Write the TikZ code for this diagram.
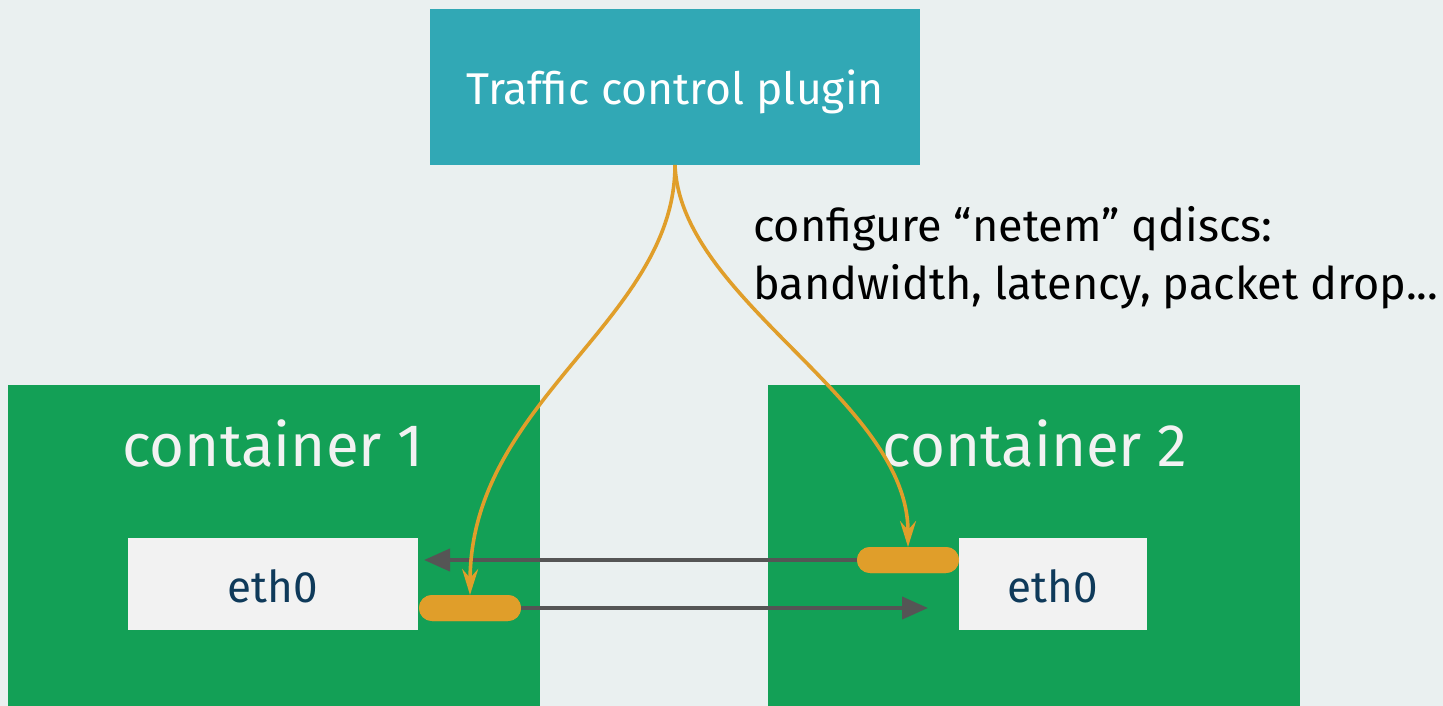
\documentclass[tikz,border=0pt]{standalone}
\usepackage{fontspec}
\setmainfont{Fira Sans}
\usetikzlibrary{arrows.meta}
\definecolor{bgc}{RGB}{234,240,240}
\definecolor{tealc}{RGB}{49,168,181}
\definecolor{greenc}{RGB}{19,160,86}
\definecolor{ethc}{RGB}{242,242,242}
\definecolor{orangec}{RGB}{224,158,42}
\definecolor{grayc}{RGB}{85,85,85}
\definecolor{navyc}{RGB}{15,58,90}
\tikzset{
  boxstyle/.style={draw=none, inner sep=0pt, outer sep=0pt},
  pill/.style={fill=orangec, rounded corners=13pt, minimum width=102pt, minimum height=26pt, inner sep=0pt, outer sep=0pt},
  flow/.style={draw=grayc, line width=4pt, -{Triangle[length=26pt,width=22pt]}},
  cfg/.style={draw=orangec, line width=3.6pt, -{Stealth[length=26pt,width=16pt,inset=9pt]}},
}
\begin{document}
\begin{tikzpicture}[x=1pt,y=-1pt]
\fill[bgc] (0,0) rectangle (1443,706);
\useasboundingbox (0,0) rectangle (1443,706);
% containers
\node[boxstyle, fill=greenc, anchor=north west, minimum width=532pt, minimum height=321pt] (c1) at (8,385) {};
\node[boxstyle, fill=greenc, anchor=north west, minimum width=532pt, minimum height=321pt] (c2) at (768,385) {};
\node[text=ethc, font=\fontsize{60}{68}\selectfont, anchor=base] (c1t) at (273,466) {container 1};
\node[text=ethc, font=\fontsize{60}{68}\selectfont, anchor=base] (c2t) at (1035,466) {container 2};
% eth0 boxes
\node[boxstyle, fill=ethc, anchor=north west, minimum width=290pt, minimum height=92pt] (e1) at (128,538) {};
\node[boxstyle, fill=ethc, anchor=north west, minimum width=188pt, minimum height=92pt] (e2) at (959,538) {};
\node[text=navyc, font=\fontsize{44}{52}\selectfont, anchor=base] (e1t) at (273,602) {eth0};
\node[text=navyc, font=\fontsize{44}{52}\selectfont, anchor=base] (e2t) at (1053,602) {eth0};
% top box
\node[boxstyle, fill=tealc, anchor=north west, minimum width=490pt, minimum height=156pt] (tc) at (430,9) {};
\node[text=white, font=\fontsize{44.5}{52}\selectfont, anchor=base] (tct) at (675,105) {Traffic control plugin};
% pills
\node[pill] (p1) at (470,608) {};
\node[pill] (p2) at (908,560) {};
\coordinate (t1) at (424,560);
\coordinate (t2) at (928,608);
\coordinate (src) at (675,165);
% gray arrows
\draw[flow] (p2.west) -- (t1);
\draw[flow] (p1.east) -- (t2);
\node[pill] at (p1) {};
\node[pill] at (p2) {};
% orange curves
\draw[cfg] (src) .. controls (675,320) and (471,400) .. (p1.north);
\draw[cfg] (src) .. controls (680,300) and (908,400) .. (p2.north);
% annotation
\node[anchor=north west, inner sep=0pt, align=left, text=black, font=\fontsize{45}{58}\selectfont] (note) at (753,206) {configure “netem” qdiscs:\\bandwidth, latency, packet drop...};
\end{tikzpicture}
\end{document}
